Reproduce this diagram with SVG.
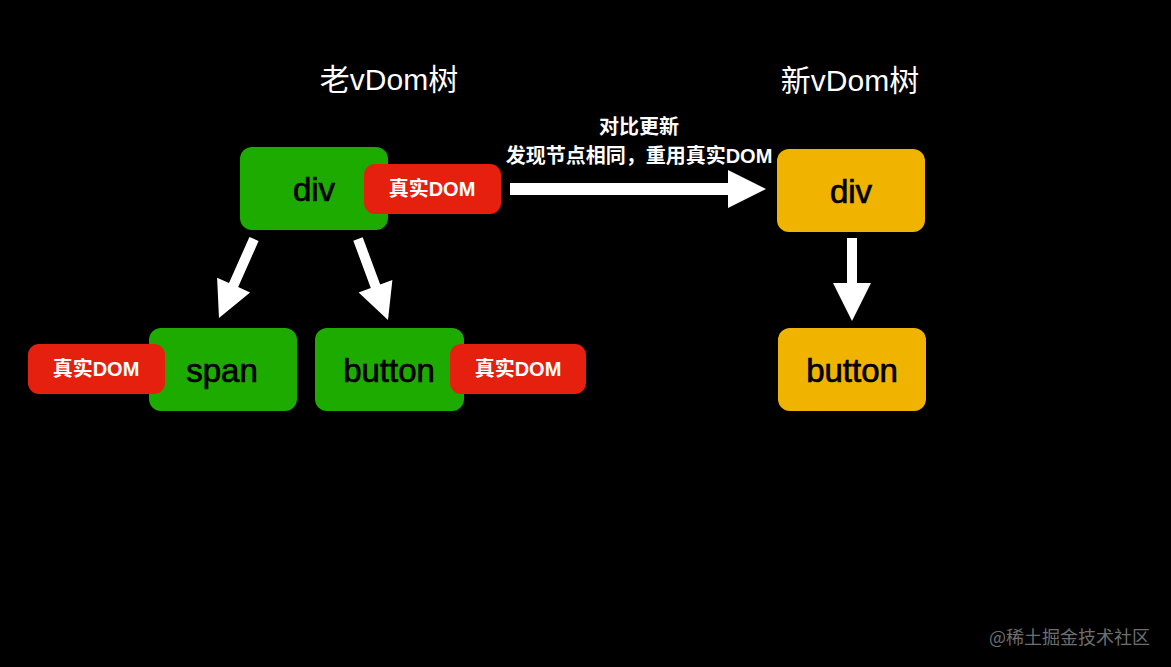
<svg xmlns="http://www.w3.org/2000/svg" width="1171" height="667" viewBox="0 0 1171 667">
<style>
.g{fill:#1eab00}
.y{fill:#f0b400}
.r{fill:#e5200f}
.nt{font-family:"Liberation Sans","Noto Sans CJK SC",sans-serif;font-size:33px;fill:#000;stroke:#000;stroke-width:0.7;text-anchor:middle;dominant-baseline:central}
.rt{font-family:"Liberation Sans","Noto Sans CJK SC",sans-serif;font-size:20px;font-weight:bold;fill:#fff;text-anchor:middle;dominant-baseline:central}
.tt{font-family:"Liberation Sans","Noto Sans CJK SC",sans-serif;font-size:30px;fill:#fff;text-anchor:middle;dominant-baseline:central}
.at{font-family:"Liberation Sans","Noto Sans CJK SC",sans-serif;font-size:20px;font-weight:bold;fill:#fff;text-anchor:middle;dominant-baseline:central}
.ar{fill:#fff}
</style>
<rect width="1171" height="667" fill="#000"/>
<text class="tt" x="389" y="79">老vDom树</text>
<text class="tt" x="850" y="80">新vDom树</text>
<text class="at" x="639" y="127">对比更新</text>
<text class="at" x="639" y="156">发现节点相同，重用真实DOM</text>
<g id="old-div"><rect class="g" x="240" y="147" width="148" height="83" rx="12"/><text class="nt" x="314" y="189">div</text></g>
<g id="old-div-dom"><rect class="r" x="364" y="164" width="137" height="50" rx="11"/><text class="rt" x="432" y="189">真实DOM</text></g>
<g id="old-span"><rect class="g" x="149" y="328" width="148" height="83" rx="12"/><text class="nt" x="222" y="370">span</text></g>
<g id="old-span-dom"><rect class="r" x="28" y="344" width="137" height="50" rx="11"/><text class="rt" x="96" y="369">真实DOM</text></g>
<g id="old-button"><rect class="g" x="315" y="328" width="149" height="83" rx="12"/><text class="nt" x="389" y="370">button</text></g>
<g id="old-button-dom"><rect class="r" x="450" y="344" width="136" height="50" rx="11"/><text class="rt" x="518" y="369">真实DOM</text></g>
<g id="new-div"><rect class="y" x="777" y="149" width="148" height="83" rx="12"/><text class="nt" x="851" y="191">div</text></g>
<g id="new-button"><rect class="y" x="778" y="328" width="148" height="83" rx="12"/><text class="nt" x="852" y="370">button</text></g>
<g id="connectors">
<polygon class="ar" points="510,183 728,183 728,170 766,189 728,208 728,195 510,195"/>
<polygon class="ar" points="847,238 857,238 857,283 871,283 852,321 833,283 847,283"/>
<polygon class="ar" points="249.4,237 229,283.1 217.1,277.8 219,318 250.1,292.4 238.2,287.1 258.6,241"/>
<polygon class="ar" points="353.3,240.7 370.8,287.9 358.6,292.4 388,320 392.4,280 380.2,284.5 362.7,237.3"/>
</g>
<text x="1150" y="636" font-family="'Noto Sans CJK SC',sans-serif" font-size="18" fill="#6e6e6e" text-anchor="end" dominant-baseline="central">@稀土掘金技术社区</text>
</svg>
